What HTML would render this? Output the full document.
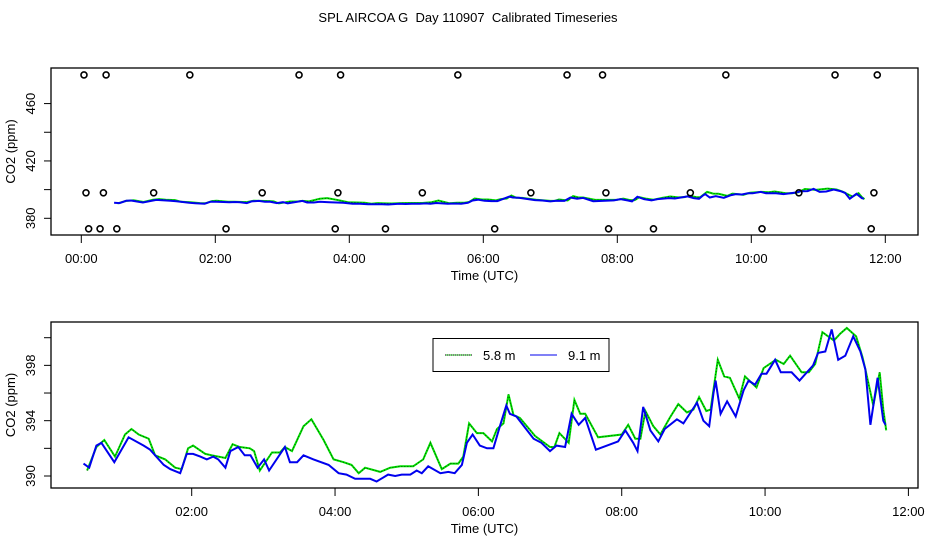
<!DOCTYPE html>
<html><head><meta charset="utf-8"><style>
html,body{margin:0;padding:0;background:#fff;}
svg{display:block;font-family:"Liberation Sans",sans-serif;}
</style></head><body>
<svg id="chart" width="936" height="540" viewBox="0 0 936 540" xmlns="http://www.w3.org/2000/svg">
<text x="468" y="22" font-size="13" text-anchor="middle" style="white-space:pre">SPL AIRCOA G  Day 110907  Calibrated Timeseries</text>
<g id="topPanel"></g>
<g id="botPanel"></g>
</svg>
<script>
const greenT = [0.54,0.67,0.78,0.93,1.07,1.16,1.26,1.40,1.49,1.63,1.77,1.86,1.95,2.02,2.19,2.28,2.47,2.57,2.67,2.81,2.87,2.95,3.12,3.23,3.30,3.40,3.56,3.67,3.84,3.98,4.12,4.23,4.33,4.42,4.63,4.77,4.91,5.09,5.23,5.33,5.49,5.61,5.72,5.79,5.87,5.98,6.07,6.19,6.26,6.35,6.42,6.49,6.58,6.79,7.00,7.06,7.13,7.26,7.34,7.42,7.49,7.67,8.00,8.09,8.19,8.26,8.33,8.44,8.54,8.67,8.79,8.91,9.00,9.08,9.18,9.24,9.34,9.43,9.51,9.64,9.72,9.88,9.98,10.15,10.26,10.35,10.51,10.61,10.70,10.80,10.96,11.05,11.14,11.27,11.36,11.40,11.51,11.60,11.65,11.69];
const greenV = [390.4,392.1,392.6,391.4,393.0,393.4,393.0,392.7,391.5,391.2,390.6,390.5,392.0,392.2,391.6,391.5,391.3,392.3,392.1,392.0,391.8,390.4,391.7,391.7,392.1,391.8,393.6,394.1,392.6,391.2,391.0,390.8,390.2,390.6,390.3,390.6,390.7,390.7,391.2,392.4,390.5,390.9,390.9,391.4,393.8,393.1,393.1,392.5,393.4,393.8,395.9,394.4,394.2,392.9,392.1,392.1,393.1,392.4,395.5,394.5,394.5,392.8,393.0,393.7,392.7,392.7,394.7,393.6,393.0,394.2,395.2,394.6,394.8,395.7,394.7,394.8,398.4,397.2,397.1,395.6,397.2,396.4,397.8,398.4,398.1,398.7,397.5,397.5,398.1,400.4,399.8,400.3,400.7,400.1,398.6,397.7,395.1,397.5,394.8,393.3];
const blueT = [0.49,0.57,0.67,0.74,0.92,1.12,1.33,1.42,1.61,1.70,1.84,1.93,2.02,2.12,2.21,2.30,2.37,2.47,2.54,2.65,2.74,2.82,2.92,3.01,3.08,3.30,3.37,3.47,3.56,3.70,3.91,4.05,4.16,4.28,4.49,4.58,4.74,4.84,4.93,5.05,5.14,5.21,5.30,5.47,5.58,5.67,5.77,5.84,5.92,6.02,6.12,6.21,6.30,6.39,6.44,6.53,6.77,6.88,7.00,7.09,7.21,7.30,7.40,7.49,7.64,7.95,8.05,8.16,8.22,8.30,8.40,8.51,8.60,8.77,8.86,9.05,9.14,9.22,9.28,9.31,9.38,9.47,9.59,9.70,9.77,9.86,9.95,10.02,10.14,10.22,10.37,10.48,10.67,10.74,10.84,10.93,11.02,11.12,11.23,11.33,11.40,11.47,11.57,11.65,11.68];
const blueV = [390.9,390.6,392.2,392.4,391.0,392.8,392.2,391.9,390.8,390.5,390.2,391.6,391.6,391.4,391.2,391.4,391.2,390.6,391.8,392.1,391.5,391.5,390.6,391.2,390.4,392.1,391.0,391.0,391.5,391.2,390.8,390.2,390.1,389.8,389.8,389.6,390.1,390.0,390.1,390.1,390.4,390.2,390.7,390.2,390.3,390.2,390.8,392.4,393.0,392.2,392.0,392.0,393.6,395.1,394.5,394.3,392.7,392.4,391.8,392.2,392.1,394.5,393.7,394.2,391.9,392.5,393.3,392.4,391.8,395.0,393.3,392.5,393.4,394.1,393.8,395.3,394.0,393.6,396.0,396.9,394.5,395.4,394.3,396.2,396.9,396.6,397.4,397.4,398.4,397.5,397.5,396.9,398.0,398.9,399.0,400.6,398.4,398.7,400.1,399.0,397.7,393.7,397.1,394.0,393.7];
const flagHighT = [0.04,0.37,1.62,3.25,3.87,5.62,7.25,7.78,9.62,11.25,11.88];
const flagMidT = [0.07,0.33,1.08,2.70,3.83,5.09,6.71,7.83,9.09,10.71,11.83];
const flagLowT = [0.11,0.28,0.53,2.16,3.79,4.54,6.17,7.87,8.54,10.16,11.79];
const flagHighV = 480, flagMidV = 397.8, flagLowV = 372.7;
const topYTicks = [380,400,420,440,460];
const topYLabels = ["380","","420","","460"];
const botYTicks = [390,392,394,396,398,400];
const botYLabels = ["390","","394","","398",""];
const topXTicks = [0,2,4,6,8,10,12];
const botXTicks = [2,4,6,8,10,12];

const NS = "http://www.w3.org/2000/svg";
function mk(parent, tag, attrs){const e=document.createElementNS(NS,tag);for(const k in attrs)e.setAttribute(k,attrs[k]);parent.appendChild(e);return e;}
function fmt(h){return (h<10?"0":"")+h+":00";}

function panel(g, P, xs, ys, yTicks, yLabels, xTicks, name){
  const box = mk(g,'rect',{x:P.l,y:P.t,width:P.r-P.l,height:P.b-P.t,fill:'none',stroke:'#000','stroke-width':1.3});
  
  
  yTicks.forEach((v,i)=>{
    const y=ys(v);
    const t=mk(g,'line',{x1:P.l-7,x2:P.l,y1:y,y2:y,stroke:'#000','stroke-width':1});
    
    
    if(yLabels[i]){
      const tx=mk(g,'text',{x:P.l-16,y:y,'font-size':13,'text-anchor':'middle',transform:`rotate(-90 ${P.l-16} ${y})`});
      tx.textContent=yLabels[i];
      
      
    }
  });
  xTicks.forEach(h=>{
    const x=xs(h);
    const t=mk(g,'line',{x1:x,x2:x,y1:P.b,y2:P.b+8,stroke:'#000','stroke-width':1});
    
    
    const tx=mk(g,'text',{x:x,y:P.b+28,'font-size':13,'text-anchor':'middle'});
    tx.textContent=fmt(h);
    
    
  });
  const xt=mk(g,'text',{x:(P.l+P.r)/2,y:P.b+45,'font-size':13,'text-anchor':'middle'});
  xt.textContent="Time (UTC)";
  
  
  const cy=(P.t+P.b)/2;
  const yt=mk(g,'text',{x:15,y:cy,'font-size':13,'text-anchor':'middle',transform:`rotate(-90 15 ${cy})`});
  yt.textContent="CO2 (ppm)";
  
  
  const gp=greenT.map((t,i)=>xs(t).toFixed(1)+","+ys(greenV[i]).toFixed(1)).join(" ");
  const bp=blueT.map((t,i)=>xs(t).toFixed(1)+","+ys(blueV[i]).toFixed(1)).join(" ");
  const gl=mk(g,'polyline',{points:gp,fill:'none',stroke:'#00e000','stroke-width':2});
  
  
  const gd=mk(g,'polyline',{points:gp,fill:'none',stroke:'#000','stroke-width':0.6,'stroke-dasharray':'1,2'});
  
  
  const bl=mk(g,'polyline',{points:bp,fill:'none',stroke:'#0000ee','stroke-width':2});
  
  
}

// top panel
const TP={l:51,r:918,t:68,b:235};
const txs=h=>81.3+h*67, tys=v=>218.3-(v-380)*1.434;
const topG=document.getElementById('topPanel');
panel(topG,TP,txs,tys,topYTicks,topYLabels,topXTicks,'top');
[[flagHighT,flagHighV],[flagMidT,flagMidV],[flagLowT,flagLowV]].forEach(([arr,v])=>{
  arr.forEach(t=>{
    const c=mk(topG,'circle',{cx:txs(t),cy:tys(v),r:3,fill:'none',stroke:'#000','stroke-width':1.6});
    
    
  });
});

// bottom panel
const BP={l:51,r:918,t:322,b:488};
const bxs=h=>191.7+(h-2)*71.67, bys=v=>476-(v-390)*13.83;
const botG=document.getElementById('botPanel');
panel(botG,BP,bxs,bys,botYTicks,botYLabels,botXTicks,'bottom');

// legend
const lg=mk(botG,'g',{});


mk(lg,'rect',{x:433,y:338.5,width:176,height:33,fill:'#fff',stroke:'#000','stroke-width':1});
const l1=mk(lg,'line',{x1:445,x2:472,y1:355,y2:355,stroke:'#00e000','stroke-width':1});


mk(lg,'line',{x1:445,x2:472,y1:355,y2:355,stroke:'#000','stroke-width':1,'stroke-dasharray':'1,1'});
const t1=mk(lg,'text',{x:483,y:360,'font-size':13});
t1.textContent="5.8 m";


const l2=mk(lg,'line',{x1:530,x2:557,y1:355,y2:355,stroke:'#0000ee','stroke-width':1});


const t2=mk(lg,'text',{x:568,y:360,'font-size':13});
t2.textContent="9.1 m";


</script>
</body></html>
